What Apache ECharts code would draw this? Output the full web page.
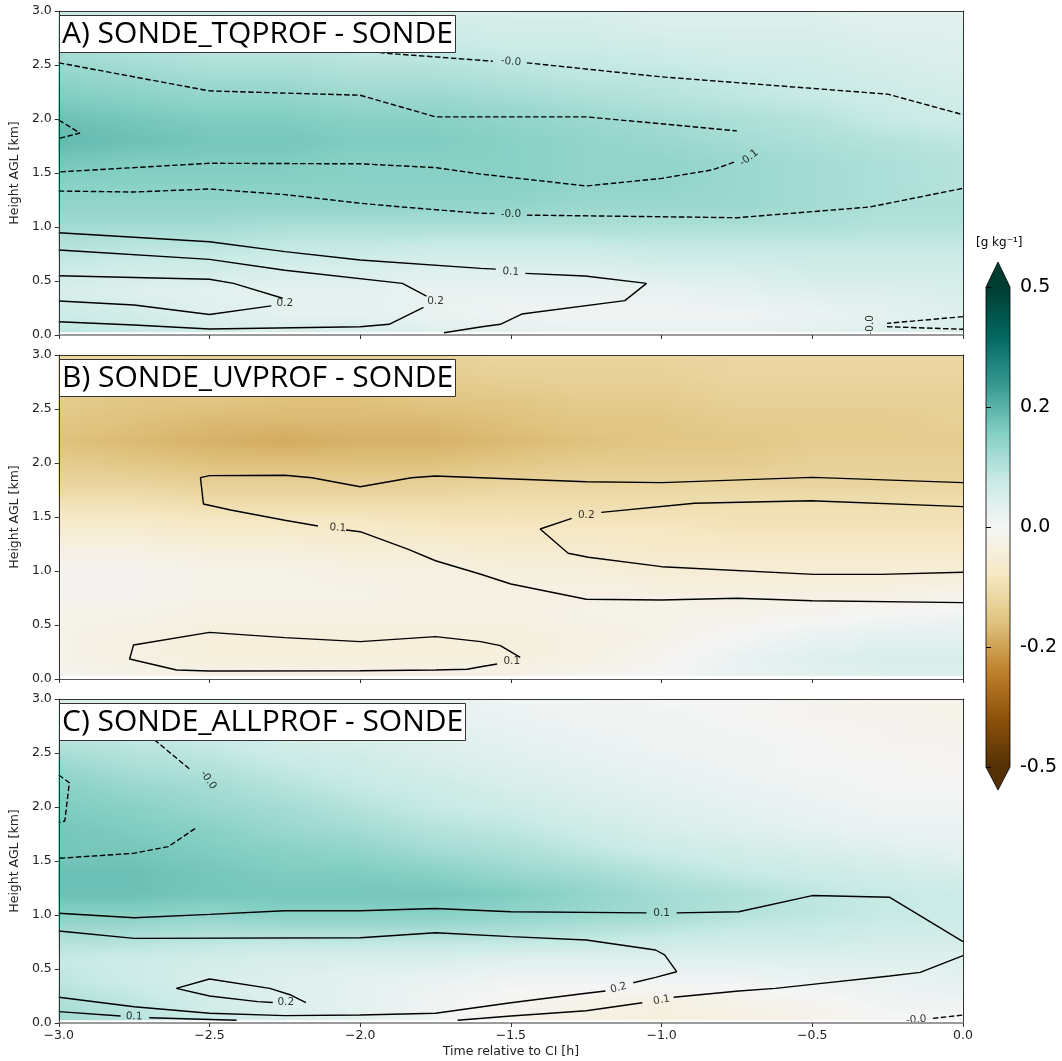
<!DOCTYPE html>
<html>
<head>
<meta charset="utf-8">
<script src="https://cdn.jsdelivr.net/npm/echarts@6/dist/echarts.min.js"></script>
<style>
  html, body { margin: 0; padding: 0; background: #fff; }
  #chart { width: 1062px; height: 1061px; }
</style>
</head>
<body>
<div id="chart"></div>
<script>
// ---- grid of the difference fields (rows = heights, columns = times) ----
const times = [-3, -2.75, -2.5, -2.25, -2, -1.75, -1.5, -1.25, -1, -0.75, -0.5, -0.25, 0];
const heights = [0.03, 0.2, 0.4, 0.6, 0.8, 1.0, 1.2, 1.4, 1.6, 1.8, 2.0, 2.2, 2.4, 2.6, 2.8, 3.0];

const fieldTQ = [
  [0.09,0.08,0.06,0.05,0.05,0.04,0.03,0.02,0.02,0.02,0.03,0.04,0.05],
  [0.07,0.06,0.04,0.03,0.03,0.02,0.01,0.01,0.01,0.01,0.02,0.03,0.04],
  [0.05,0.04,0.03,0.03,0.03,0.02,0.02,0.02,0.02,0.03,0.04,0.04,0.05],
  [0.07,0.06,0.06,0.05,0.05,0.04,0.04,0.04,0.05,0.05,0.06,0.06,0.06],
  [0.10,0.09,0.09,0.08,0.08,0.07,0.07,0.07,0.08,0.08,0.08,0.08,0.08],
  [0.12,0.12,0.12,0.11,0.11,0.11,0.11,0.11,0.11,0.11,0.11,0.10,0.10],
  [0.14,0.14,0.14,0.14,0.14,0.14,0.14,0.13,0.13,0.13,0.12,0.11,0.11],
  [0.15,0.15,0.15,0.15,0.15,0.15,0.15,0.14,0.14,0.13,0.12,0.11,0.10],
  [0.17,0.16,0.16,0.16,0.15,0.15,0.15,0.14,0.14,0.13,0.12,0.11,0.10],
  [0.19,0.18,0.17,0.17,0.16,0.16,0.15,0.14,0.13,0.12,0.11,0.10,0.09],
  [0.18,0.17,0.16,0.16,0.15,0.15,0.14,0.13,0.12,0.11,0.10,0.08,0.07],
  [0.16,0.15,0.14,0.14,0.13,0.13,0.12,0.11,0.10,0.09,0.08,0.07,0.06],
  [0.14,0.13,0.12,0.12,0.11,0.11,0.10,0.09,0.09,0.08,0.07,0.06,0.05],
  [0.12,0.11,0.10,0.10,0.09,0.09,0.08,0.08,0.07,0.06,0.06,0.05,0.04],
  [0.10,0.09,0.08,0.08,0.07,0.07,0.06,0.06,0.05,0.05,0.05,0.04,0.04],
  [0.08,0.07,0.07,0.06,0.06,0.05,0.05,0.05,0.04,0.04,0.04,0.03,0.03]
];

const fieldUV = [
  [-0.01,-0.02,-0.02,-0.02,-0.02,-0.02,-0.02,-0.01,0.00,0.02,0.03,0.04,0.04],
  [-0.02,-0.03,-0.04,-0.04,-0.04,-0.04,-0.04,-0.03,-0.01,0.02,0.04,0.05,0.05],
  [-0.02,-0.03,-0.04,-0.04,-0.04,-0.04,-0.04,-0.03,-0.02,0.00,0.02,0.03,0.03],
  [-0.02,-0.02,-0.03,-0.03,-0.03,-0.03,-0.03,-0.02,-0.02,-0.02,-0.01,0.00,0.01],
  [-0.01,-0.01,-0.02,-0.02,-0.02,-0.03,-0.03,-0.03,-0.03,-0.03,-0.03,-0.03,-0.02],
  [-0.01,-0.01,-0.02,-0.02,-0.03,-0.03,-0.04,-0.04,-0.05,-0.05,-0.05,-0.05,-0.05],
  [-0.03,-0.03,-0.04,-0.04,-0.05,-0.05,-0.06,-0.06,-0.07,-0.07,-0.07,-0.07,-0.07],
  [-0.06,-0.06,-0.07,-0.07,-0.07,-0.08,-0.08,-0.08,-0.08,-0.09,-0.09,-0.09,-0.09],
  [-0.09,-0.09,-0.10,-0.10,-0.10,-0.10,-0.10,-0.10,-0.10,-0.10,-0.10,-0.10,-0.10],
  [-0.12,-0.12,-0.13,-0.13,-0.13,-0.13,-0.12,-0.12,-0.12,-0.12,-0.12,-0.12,-0.12],
  [-0.14,-0.15,-0.16,-0.16,-0.16,-0.16,-0.15,-0.14,-0.14,-0.14,-0.13,-0.13,-0.13],
  [-0.16,-0.17,-0.18,-0.19,-0.18,-0.18,-0.17,-0.16,-0.15,-0.15,-0.14,-0.14,-0.14],
  [-0.15,-0.16,-0.17,-0.17,-0.17,-0.17,-0.16,-0.15,-0.15,-0.14,-0.14,-0.14,-0.13],
  [-0.14,-0.15,-0.15,-0.16,-0.16,-0.15,-0.15,-0.14,-0.14,-0.13,-0.13,-0.13,-0.13],
  [-0.13,-0.13,-0.14,-0.14,-0.14,-0.14,-0.13,-0.13,-0.13,-0.12,-0.12,-0.12,-0.12],
  [-0.12,-0.12,-0.13,-0.13,-0.13,-0.13,-0.12,-0.12,-0.12,-0.12,-0.12,-0.12,-0.12]
];

const fieldALL = [
  [0.12,0.10,0.07,0.05,0.03,0.01,-0.02,-0.03,-0.04,-0.03,-0.02,0.00,0.00],
  [0.11,0.09,0.06,0.04,0.03,0.01,-0.01,-0.02,-0.03,-0.02,-0.01,0.01,0.01],
  [0.09,0.07,0.05,0.04,0.03,0.02,0.01,0.01,0.01,0.01,0.02,0.02,0.03],
  [0.08,0.07,0.06,0.05,0.05,0.05,0.04,0.04,0.04,0.04,0.04,0.04,0.04],
  [0.11,0.11,0.10,0.10,0.10,0.10,0.10,0.09,0.08,0.07,0.07,0.06,0.06],
  [0.15,0.15,0.14,0.15,0.15,0.15,0.14,0.13,0.12,0.10,0.09,0.08,0.07],
  [0.18,0.18,0.17,0.17,0.17,0.17,0.16,0.14,0.12,0.11,0.09,0.08,0.07],
  [0.18,0.18,0.17,0.16,0.16,0.15,0.13,0.12,0.10,0.08,0.07,0.06,0.05],
  [0.17,0.17,0.16,0.15,0.14,0.12,0.11,0.09,0.07,0.06,0.05,0.04,0.03],
  [0.17,0.16,0.15,0.13,0.12,0.10,0.09,0.07,0.05,0.04,0.03,0.02,0.02],
  [0.16,0.15,0.13,0.12,0.10,0.08,0.07,0.05,0.04,0.03,0.02,0.01,0.01],
  [0.15,0.13,0.12,0.10,0.08,0.07,0.05,0.04,0.03,0.02,0.01,0.00,0.00],
  [0.13,0.11,0.10,0.08,0.07,0.05,0.04,0.03,0.02,0.01,0.00,0.00,-0.01],
  [0.10,0.09,0.08,0.06,0.05,0.04,0.03,0.02,0.01,0.01,0.00,-0.01,-0.01],
  [0.08,0.07,0.06,0.05,0.04,0.03,0.02,0.01,0.01,0.00,-0.01,-0.01,-0.02],
  [0.05,0.04,0.04,0.03,0.02,0.02,0.01,0.01,0.00,0.00,-0.01,-0.02,-0.02]
];

// ---- contour lines: label text + polyline pieces of [time, height] ----
const contoursTQ = [
  { text: '-0.0', paths: [[[-2.2,2.72],[-1.92,2.61],[-1.56,2.535]], [[-1.447,2.52],[-1.0,2.39],[-0.25,2.23],[0,2.04]]] },
  { text: '-0.1', paths: [[[-3,2.52],[-2.5,2.26],[-2.0,2.22],[-1.75,2.02],[-1.25,2.02],[-0.75,1.89]],
                          [[-0.76,1.6],[-0.83,1.53],[-1.0,1.45],[-1.25,1.38],[-1.6,1.49],[-1.75,1.55],[-2.0,1.585],[-2.5,1.59],[-3,1.51]]] },
  { text: '-0.2', paths: [[[-3,1.99],[-2.93,1.87],[-3,1.82]]] },
  { text: '-0.0', paths: [[[-3,1.333],[-2.75,1.324],[-2.5,1.352],[-2.25,1.30],[-2.0,1.22],[-1.86,1.185],[-1.6,1.127],[-1.555,1.125]],
                          [[-1.447,1.11],[-1.0,1.095],[-0.75,1.086],[-0.31,1.185],[0,1.358]]] },
  { text: '0.1', paths: [[[-3,0.947],[-2.5,0.864],[-2.25,0.772],[-2.0,0.694],[-1.6,0.617],[-1.55,0.61]],
                         [[-1.452,0.571],[-1.254,0.546],[-1.05,0.478],[-1.122,0.318],[-1.464,0.194],[-1.535,0.099],[-1.596,0.077],[-1.722,0.021]]] },
  { text: '0.2', paths: [[[-3,0.787],[-2.5,0.70],[-2.25,0.60],[-1.86,0.478],[-1.78,0.36]],
                         [[-1.79,0.256],[-1.904,0.099],[-2.0,0.077],[-2.5,0.056],[-2.75,0.093],[-3,0.123]]] },
  { text: '0.2', paths: [[[-3,0.549],[-2.5,0.516],[-2.42,0.478],[-2.257,0.34]],
                         [[-2.295,0.27],[-2.5,0.19],[-2.75,0.278],[-3,0.315]]] },
  { text: '-0.0', paths: [[[0,0.17],[-0.252,0.108]], [[-0.252,0.077],[0,0.053]]] }
];
const labelsTQ = [
  ['-0.0', -1.5, 2.53, -5], ['-0.1', -0.71, 1.64, 38], ['-0.0', -1.5, 1.12, 0],
  ['0.1', -1.5, 0.585, -4], ['0.2', -2.25, 0.296, 0], ['0.2', -1.75, 0.309, 0], ['-0.0', -0.307, 0.09, 90]
];

const contoursUV = [
  { text: '0.1', paths: [[[0,1.818],[-0.5,1.867],[-1.0,1.818],[-1.25,1.827],[-1.6,1.864],[-1.75,1.88],[-1.83,1.864],[-2.0,1.78],[-2.16,1.864],[-2.25,1.886],[-2.5,1.883],[-2.53,1.864],[-2.52,1.62],[-2.43,1.565],[-2.25,1.47],[-2.14,1.417]],
                         [[-2.047,1.38],[-2.0,1.364],[-1.84,1.20],[-1.75,1.095],[-1.6,0.97],[-1.5,0.88],[-1.25,0.738],[-1.0,0.731],[-0.75,0.747],[-0.5,0.725],[0,0.707]]] },
  { text: '0.2', paths: [[[0,1.596],[-0.505,1.65],[-0.891,1.627],[-1.2,1.543]],
                         [[-1.298,1.488],[-1.403,1.389],[-1.31,1.164],[-1.243,1.127],[-1.0,1.04],[-0.495,0.969],[-0.274,0.969],[0,0.988]]] },
  { text: '0.1', paths: [[[-1.469,0.20],[-1.535,0.309],[-1.6,0.346],[-1.75,0.392],[-2.0,0.346],[-2.25,0.383],[-2.5,0.432],[-2.752,0.315],[-2.765,0.185],[-2.609,0.083],[-2.5,0.074],[-2.0,0.077],[-1.75,0.083],[-1.645,0.09],[-1.6,0.114],[-1.546,0.139]]] }
];
const labelsUV = [
  ['0.1', -2.074, 1.40, -4], ['0.2', -1.25, 1.52, 0], ['0.1', -1.497, 0.167, 0]
];

const contoursALL = [
  { text: '-0.0', paths: [[[-2.785,2.86],[-2.675,2.605],[-2.565,2.349]], [[-2.548,1.80],[-2.637,1.633],[-2.752,1.571],[-3,1.525]]] },
  { text: '-0.0', paths: [[[-3,2.296],[-2.965,2.225],[-2.98,1.87],[-3,1.855]]] },
  { text: '0.1', paths: [[[-3,1.016],[-2.75,0.975],[-2.5,1.006],[-2.25,1.04],[-2.0,1.04],[-1.75,1.06],[-1.5,1.03],[-1.05,1.02]],
                         [[-0.95,1.02],[-0.744,1.03],[-0.5,1.18],[-0.243,1.164],[0,0.753]]] },
  { text: '0.2', paths: [[[-3,0.852],[-2.75,0.784],[-2.0,0.79],[-1.75,0.836],[-1.5,0.80],[-1.25,0.768],[-1.02,0.676],[-0.99,0.63],[-0.95,0.475],[-1.02,0.423],[-1.094,0.373]],
                         [[-1.186,0.296],[-1.25,0.275],[-1.5,0.188],[-1.75,0.09],[-2.0,0.074],[-2.25,0.068],[-2.5,0.09],[-2.75,0.151],[-3,0.238]]] },
  { text: '0.2', paths: [[[-2.29,0.19],[-2.34,0.198],[-2.5,0.25],[-2.61,0.321],[-2.5,0.407],[-2.3,0.321],[-2.23,0.259],[-2.18,0.188]]] },
  { text: '0.1', paths: [[[-3,0.105],[-2.795,0.065]], [[-2.70,0.049],[-2.41,0.025]]] },
  { text: '0.1', paths: [[[-1.677,0.025],[-1.5,0.065],[-1.25,0.114],[-1.064,0.188]],
                         [[-0.96,0.238],[-0.744,0.296],[-0.623,0.321],[-0.5,0.358],[-0.243,0.435],[-0.142,0.469],[0,0.623]]] },
  { text: '-0.0', paths: [[[-0.1,0.043],[0,0.074]]] }
];
const labelsALL = [
  ['-0.0', -2.504, 2.25, -55], ['0.1', -1.0, 1.02, 0], ['0.2', -1.143, 0.324, 15],
  ['0.2', -2.247, 0.194, 0], ['0.1', -2.75, 0.06, -2], ['0.1', -1.0, 0.213, 10], ['-0.0', -0.155, 0.03, 5]
];

const panelTitles = ['A) SONDE_TQPROF - SONDE', 'B) SONDE_UVPROF - SONDE', 'C) SONDE_ALLPROF - SONDE'];
const colorbarTicks = [-0.5, -0.2, 0.0, 0.2, 0.5];
const colorbarTickLabels = ['-0.5', '-0.2', '0.0', '0.2', '0.5'];

// ---- BrBG colour map with the two-segment colour scaling of the colour bar ----
const BRBG = ['#543005','#8c510a','#bf812d','#dfc27d','#f6e8c3','#f5f5f5','#c7eae5','#80cdc1','#35978f','#01665e','#003c30'];
const BRBG_RGB = BRBG.map(h => [1, 3, 5].map(k => parseInt(h.substr(k, 2), 16)));

function cmap(p) {
  p = Math.max(0, Math.min(1, p));
  const x = p * 10, i = Math.min(9, Math.floor(x)), f = x - i;
  const a = BRBG_RGB[i], b = BRBG_RGB[i + 1];
  return 'rgb(' + a.map((c, k) => Math.round(c + (b[k] - c) * f)).join(',') + ')';
}
// value -> position on the colour bar (ticks equally spaced)
function norm(v) {
  const n = colorbarTicks.length - 1;
  if (v <= colorbarTicks[0]) return 0;
  if (v >= colorbarTicks[n]) return 1;
  for (let i = 0; i < n; i++) {
    if (v <= colorbarTicks[i + 1]) {
      return (i + (v - colorbarTicks[i]) / (colorbarTicks[i + 1] - colorbarTicks[i])) / n;
    }
  }
  return 1;
}
const colorOf = v => cmap(norm(v));

// ---- layout ----
const panelTops = [11, 355, 699];
const panelH = 324;
const fields = [fieldTQ, fieldUV, fieldALL];
const contourSets = [contoursTQ, contoursUV, contoursALL];
const labelSets = [labelsTQ, labelsUV, labelsALL];

const FONT = 'DejaVu Sans';
const grids = [], xAxes = [], yAxes = [], series = [], titles = [];

panelTops.forEach((top, k) => {
  grids.push({ left: 55, right: 99, top: top, height: panelH, containLabel: false });
  const last = k === 2;
  xAxes.push({
    type: 'value', gridIndex: k, min: -3, max: 0, interval: 0.5, position: 'bottom', z: 10,
    axisLine: { show: true, onZero: false, lineStyle: { color: k === 1 ? '#555' : '#9a9a9a', width: k === 1 ? 1.2 : 2 } },
    axisTick: { show: true, length: 4, lineStyle: { color: '#333', width: 1 } },
    axisLabel: { show: last, margin: 6, fontFamily: FONT, fontSize: 12.5, color: '#222',
                 formatter: v => (v < 0 ? '\u2212' : '') + Math.abs(v).toFixed(1) },
    splitLine: { show: false },
    name: last ? 'Time relative to CI [h]' : '', nameLocation: 'middle', nameGap: 22,
    nameTextStyle: { fontFamily: FONT, fontSize: 12.5, color: '#222' }
  });
  xAxes.push({
    type: 'value', gridIndex: k, min: -3, max: 0, position: 'top', z: 10,
    axisLine: { show: true, onZero: false, lineStyle: { color: '#333', width: 1 } },
    axisTick: { show: false }, axisLabel: { show: false }, splitLine: { show: false }
  });
  yAxes.push({
    type: 'value', gridIndex: k, min: 0, max: 3, interval: 0.5, position: 'left', z: 10,
    axisLine: { show: true, onZero: false, lineStyle: { color: '#333', width: 1 } },
    axisTick: { show: true, length: 4, lineStyle: { color: '#333', width: 1 } },
    axisLabel: { margin: 7, fontFamily: FONT, fontSize: 12.5, color: '#222', formatter: v => v.toFixed(1) },
    splitLine: { show: false },
    name: 'Height AGL [km]', nameLocation: 'middle', nameGap: 31,
    nameTextStyle: { fontFamily: FONT, fontSize: 12.5, color: '#222' }
  });
  yAxes.push({
    type: 'value', gridIndex: k, min: 0, max: 3, position: 'right', z: 10,
    axisLine: { show: true, onZero: false, lineStyle: { color: '#333', width: 1 } },
    axisTick: { show: false }, axisLabel: { show: false }, splitLine: { show: false }
  });

  const field = fields[k];
  // shaded field: one cell between neighbouring grid nodes
  const cells = [];
  for (let j = 0; j < heights.length - 1; j++)
    for (let i = 0; i < times.length - 1; i++) cells.push([times[i], heights[j]]);
  series.push({
    type: 'custom', xAxisIndex: 2 * k, yAxisIndex: 2 * k, data: cells, silent: true, clip: true, z: 1,
    renderItem: (params, api) => {
      const i = times.indexOf(api.value(0)), j = heights.indexOf(api.value(1));
      const pA = api.coord([times[i], heights[j]]);
      const pB = api.coord([times[i + 1], heights[j + 1]]);
      const x0 = pA[0], x1 = pB[0], yb = pA[1], yt = pB[1];
      const N = 6, children = [];
      for (let s = 0; s < N; s++) {
        const fm = (s + 0.5) / N;
        const vl = field[j][i] * (1 - fm) + field[j + 1][i] * fm;
        const vr = field[j][i + 1] * (1 - fm) + field[j + 1][i + 1] * fm;
        const ya = yb + (yt - yb) * (s + 1) / N;
        const stops = [];
        for (let g = 0; g <= 4; g++) stops.push({ offset: g / 4, color: colorOf(vl + (vr - vl) * g / 4) });
        children.push({
          type: 'rect',
          shape: { x: x0 - 0.5, y: ya - 0.5, width: x1 - x0 + 1, height: (yb - yt) / N + 1 },
          style: { fill: new echarts.graphic.LinearGradient(0, 0, 1, 0, stops) }
        });
      }
      return { type: 'group', children };
    }
  });

  // contour lines
  contourSets[k].forEach(c => {
    const dashed = c.text.charAt(0) === '-';
    c.paths.forEach(path => {
      series.push({
        type: 'line', xAxisIndex: 2 * k, yAxisIndex: 2 * k, data: path, silent: true, z: 3,
        symbol: 'none', showSymbol: false, smooth: false,
        lineStyle: { color: '#000', width: 1.4, type: dashed ? [5.5, 2.5] : 'solid' }
      });
    });
  });
  // contour labels
  series.push({
    type: 'scatter', xAxisIndex: 2 * k, yAxisIndex: 2 * k, silent: true, z: 4,
    symbolSize: 1, itemStyle: { color: 'rgba(0,0,0,0)' },
    data: labelSets[k].map(l => ({ name: l[0], value: [l[1], l[2]], label: { rotate: l[3] } })),
    label: { show: true, position: 'inside', formatter: '{b}', color: '#000', fontFamily: FONT, fontSize: 10.5 }
  });

  titles.push({
    text: panelTitles[k], left: 59, top: top + 4, z: 20,
    backgroundColor: '#fff', borderColor: '#333', borderWidth: 1, padding: [1, 3, 1, 3],
    textStyle: { fontFamily: 'Open Sans', fontSize: 30, fontWeight: 'normal', color: '#000', lineHeight: 36 }
  });
});

// ---- colour bar ----
grids.push({ left: 986, top: 287, width: 24, height: 480 });
xAxes.push({ type: 'value', gridIndex: 3, min: 0, max: 1, show: false });
yAxes.push({
  type: 'value', gridIndex: 3, min: 0, max: 1, interval: 1 / (colorbarTicks.length - 1), position: 'right', z: 10,
  axisLine: { show: false },
  axisTick: { show: true, length: 5, lineStyle: { color: '#000', width: 1 } },
  axisLabel: { margin: 10, fontFamily: FONT, fontSize: 19, color: '#000',
               formatter: v => colorbarTickLabels[Math.round(v * (colorbarTicks.length - 1))] },
  splitLine: { show: false }
});
series.push({
  type: 'custom', xAxisIndex: 6, yAxisIndex: 6, data: [[0, 0]], silent: true, z: 2,
  renderItem: (params, api) => {
    const bl = api.coord([0, 0]), tr = api.coord([1, 1]);
    const topApex = api.coord([0.5, 1.052]), botApex = api.coord([0.5, -0.048]);
    const stops = [];
    for (let s = 0; s <= 60; s++) stops.push({ offset: s / 60, color: cmap(s / 60) });
    return {
      type: 'group',
      children: [
        { type: 'rect', shape: { x: bl[0], y: tr[1], width: tr[0] - bl[0], height: bl[1] - tr[1] },
          style: { fill: new echarts.graphic.LinearGradient(0, 1, 0, 0, stops) } },
        { type: 'polygon', shape: { points: [[bl[0], tr[1]], [tr[0], tr[1]], [topApex[0], topApex[1]]] },
          style: { fill: cmap(1) } },
        { type: 'polygon', shape: { points: [[bl[0], bl[1]], [tr[0], bl[1]], [botApex[0], botApex[1]]] },
          style: { fill: cmap(0) } },
        { type: 'polygon', shape: { points: [[botApex[0], botApex[1]], [bl[0], bl[1]], [bl[0], tr[1]],
                                             [topApex[0], topApex[1]], [tr[0], tr[1]], [tr[0], bl[1]]] },
          style: { fill: 'none', stroke: '#000', lineWidth: 0.8 } }
      ]
    };
  }
});
titles.push({ text: '[g kg\u207b\u00b9]', left: 976, top: 237, padding: 0,
              textStyle: { fontFamily: FONT, fontSize: 12, fontWeight: 'normal', color: '#000' } });

const chart = echarts.init(document.getElementById('chart'), null, { renderer: 'canvas' });
chart.setOption({
  animation: false,
  backgroundColor: '#fff',
  textStyle: { fontFamily: FONT },
  title: titles,
  grid: grids,
  xAxis: xAxes,
  yAxis: yAxes,
  series: series
});
</script>
</body>
</html>
